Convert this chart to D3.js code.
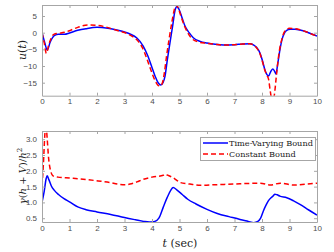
<!DOCTYPE html>
<html><head><meta charset="utf-8">
<script src="https://cdn.jsdelivr.net/npm/d3@7"></script>
<style>
body{margin:0;background:#fff;}
svg{display:block;}
.tick text{font-family:"Liberation Sans",Arial,sans-serif;font-size:8px;fill:#4d4d4d;}
.lab{font-family:"DejaVu Serif","Liberation Serif",serif;fill:#222;}
</style></head>
<body>
<script>
// ---- data ----
const uTimeBlue = [0,0.1,0.19,0.3,0.46,0.6,0.82,1.0,1.3,1.6,2.0,2.4,2.76,3.0,3.2,3.45,3.68,3.85,3.99,4.12,4.23,4.32,4.4,4.47,4.56,4.65,4.75,4.84,4.9,4.97,5.08,5.2,5.35,5.5,5.75,6.0,6.3,6.6,7.0,7.3,7.56,7.7,7.8,7.93,8.02,8.1,8.18,8.24,8.31,8.39,8.46,8.51,8.56,8.65,8.73,8.81,8.9,9.02,9.2,9.38,9.6,9.8,10];
const uBlue = [0,-3.0,-5.2,-2.8,-0.8,-0.5,-0.5,-0.1,0.7,1.2,1.6,1.3,0.7,0.2,-0.4,-1.6,-4.0,-7,-10.2,-13.2,-15.1,-15.7,-15,-13.2,-8,-3.2,2,6.8,7.8,7.2,4.8,2.0,0,-1.5,-2.6,-3.1,-3.5,-3.7,-3.6,-3.4,-3.3,-3.7,-4.4,-6.2,-8.5,-11.0,-12.6,-13,-11.8,-10.9,-11.6,-12.4,-10,-5.2,-2,-0.2,0.7,1.0,1.0,0.8,0.3,-0.4,-1.0];
const uTimeRed = [0,0.08,0.16,0.25,0.43,0.6,0.82,1.0,1.3,1.67,2.0,2.28,2.6,2.8,3.1,3.3,3.5,3.65,3.8,3.95,4.1,4.2,4.29,4.38,4.45,4.53,4.62,4.72,4.8,4.87,4.95,5.05,5.18,5.3,5.45,5.7,6.0,6.3,6.6,7.0,7.3,7.56,7.7,7.8,7.93,8.02,8.1,8.18,8.24,8.3,8.39,8.46,8.51,8.56,8.63,8.72,8.8,8.9,8.99,9.2,9.38,9.6,9.8,10];
const uRed = [0,-3.0,-6.2,-3.5,-0.5,-0.2,0.1,0.6,1.6,2.3,2.2,1.8,1.0,0.5,-0.3,-1.2,-2.6,-4.5,-7.5,-11,-14.2,-15.6,-16,-15,-12,-7,-2,3,6.5,8.3,7.5,5,2,0,-1.8,-2.8,-3.2,-3.5,-3.7,-3.6,-3.4,-3.3,-3.8,-4.5,-6.4,-8.8,-11.2,-12.8,-14,-17.5,-21,-18,-14,-10,-5.5,-2,0,1.0,1.3,1.2,0.9,0.3,-0.4,-1.0];
const gTimeBlue = [0,0.08,0.15,0.19,0.25,0.34,0.45,0.6,0.8,1.0,1.3,1.6,2.0,2.5,3.0,3.4,3.7,3.9,4.1,4.25,4.41,4.55,4.68,4.77,4.9,5.1,5.3,5.6,6.0,6.4,6.8,7.2,7.5,7.7,7.85,7.95,8.05,8.15,8.23,8.33,8.4,8.47,8.55,8.65,8.9,9.15,9.38,9.7,10];
const gBlue = [1.0,1.35,1.75,1.84,1.72,1.52,1.38,1.25,1.12,1.02,0.86,0.77,0.7,0.62,0.52,0.45,0.4,0.38,0.4,0.5,0.85,1.15,1.38,1.47,1.4,1.25,1.1,0.95,0.78,0.64,0.55,0.46,0.4,0.36,0.4,0.5,0.73,0.92,1.05,1.15,1.2,1.26,1.24,1.2,1.15,1.05,0.94,0.76,0.6];
const gTimeRed = [0,0.05,0.1,0.14,0.19,0.24,0.3,0.4,0.58,1.0,1.31,2.04,2.47,2.76,3.02,3.2,3.45,3.68,4.0,4.41,4.47,4.6,4.77,4.9,5.02,5.38,5.76,6.3,6.97,7.5,7.94,8.3,8.67,9.15,9.6,10];
const gRed = [1.52,2.2,3.1,3.5,3.0,2.4,2.05,1.84,1.8,1.77,1.75,1.68,1.63,1.58,1.56,1.58,1.65,1.73,1.8,1.86,1.89,1.85,1.78,1.7,1.63,1.58,1.54,1.56,1.58,1.6,1.61,1.55,1.61,1.55,1.58,1.61];
const xTicks = [0,1,2,3,4,5,6,7,8,9,10];
const uTicks = [-15,-10,-5,0,5];
const gTicks = [0.5,1,1.5,2,2.5,3];
const legendLabels = ["Time-Varying Bound","Constant Bound"];

const W=334,H=252;
const svg=d3.select("body").append("svg").attr("width",W).attr("height",H);
const x=d3.scaleLinear().domain([0,10]).range([42,317]);
const yTop=d3.scaleLinear().domain([-18.9,8.3]).range([95.7,5]);
const yBot=d3.scaleLinear().domain([0.38,3.26]).range([222,131]);

function panel(y,yt,id,series){
  const [y0,y1]=y.range();
  const g=svg.append("g");
  g.append("clipPath").attr("id",id).append("rect")
    .attr("x",x.range()[0]).attr("y",y1).attr("width",x.range()[1]-x.range()[0]).attr("height",y0-y1);
  const lines=g.append("g").attr("clip-path","url(#"+id+")");
  series.forEach(s=>{
    const pts=s.t.map((t,i)=>[t,s.v[i]]);
    lines.append("path").datum(pts)
      .attr("d",d3.line().x(d=>x(d[0])).y(d=>y(d[1])).curve(d3.curveMonotoneX))
      .attr("fill","none").attr("stroke",s.c).attr("stroke-width",1.5)
      .attr("stroke-dasharray",s.dash||null);
  });
  const ax=(sel)=>sel.selectAll(".domain").attr("stroke","#a6a6a6");
  g.append("g").attr("transform",`translate(0,${y0})`)
    .call(d3.axisBottom(x).tickValues(xTicks).tickSizeInner(-3).tickSizeOuter(0).tickPadding(3))
    .call(ax).call(s=>s.selectAll(".tick line").attr("stroke","#a6a6a6"));
  g.append("g").attr("transform",`translate(0,${y1})`)
    .call(d3.axisTop(x).tickValues(xTicks).tickSizeInner(-3).tickSizeOuter(0).tickFormat(""))
    .call(ax).call(s=>s.selectAll(".tick line").attr("stroke","#a6a6a6"));
  g.append("g").attr("transform",`translate(${x.range()[0]},0)`)
    .call(d3.axisLeft(y).tickValues(yt).tickSizeInner(-3).tickSizeOuter(0).tickPadding(5))
    .call(ax).call(s=>s.selectAll(".tick line").attr("stroke","#a6a6a6"));
  g.append("g").attr("transform",`translate(${x.range()[1]},0)`)
    .call(d3.axisRight(y).tickValues(yt).tickSizeInner(-3).tickSizeOuter(0).tickFormat(""))
    .call(ax).call(s=>s.selectAll(".tick line").attr("stroke","#a6a6a6"));
  g.selectAll(".tick text").attr("fill","#4d4d4d");
  return g;
}
panel(yTop,uTicks,"c1",[{t:uTimeBlue,v:uBlue,c:"#0000ff"},{t:uTimeRed,v:uRed,c:"#ff0000",dash:"5,3"}]);
panel(yBot,gTicks,"c2",[{t:gTimeBlue,v:gBlue,c:"#0000ff"},{t:gTimeRed,v:gRed,c:"#ff0000",dash:"5,3"}]);

// y labels
svg.append("text").attr("class","lab").attr("transform","translate(26,50) rotate(-90)")
  .attr("text-anchor","middle").attr("font-size",11)
  .html('<tspan font-style="italic">u</tspan>(<tspan font-style="italic">t</tspan>)');
svg.append("text").attr("class","lab").attr("transform","translate(26,176) rotate(-90)")
  .attr("text-anchor","middle").attr("font-size",10)
  .html('<tspan font-style="italic">γ</tspan>(<tspan font-style="italic">h</tspan> + <tspan font-style="italic">V</tspan>)/<tspan font-style="italic">h</tspan><tspan font-size="7" dy="-4">2</tspan>');
// x label
svg.append("text").attr("class","lab").attr("x",180).attr("y",247)
  .attr("text-anchor","middle").attr("font-size",11)
  .html('<tspan font-style="italic">t</tspan> (sec)');

// legend
const lg=svg.append("g");
lg.append("rect").attr("x",200.5).attr("y",137.5).attr("width",115).attr("height",23)
  .attr("fill","#fff").attr("stroke","#a6a6a6").attr("stroke-width",1);
const lc=[{c:"#0000ff",d:null},{c:"#ff0000",d:"5,3"}];
legendLabels.forEach((l,i)=>{
  const yy=143+i*11;
  lg.append("line").attr("x1",203).attr("x2",228).attr("y1",yy).attr("y2",yy)
    .attr("stroke",lc[i].c).attr("stroke-width",1.5).attr("stroke-dasharray",lc[i].d);
  lg.append("text").attr("class","lab").attr("x",229).attr("y",yy+3).attr("font-size",8.2).text(l);
});
</script>
</body></html>
